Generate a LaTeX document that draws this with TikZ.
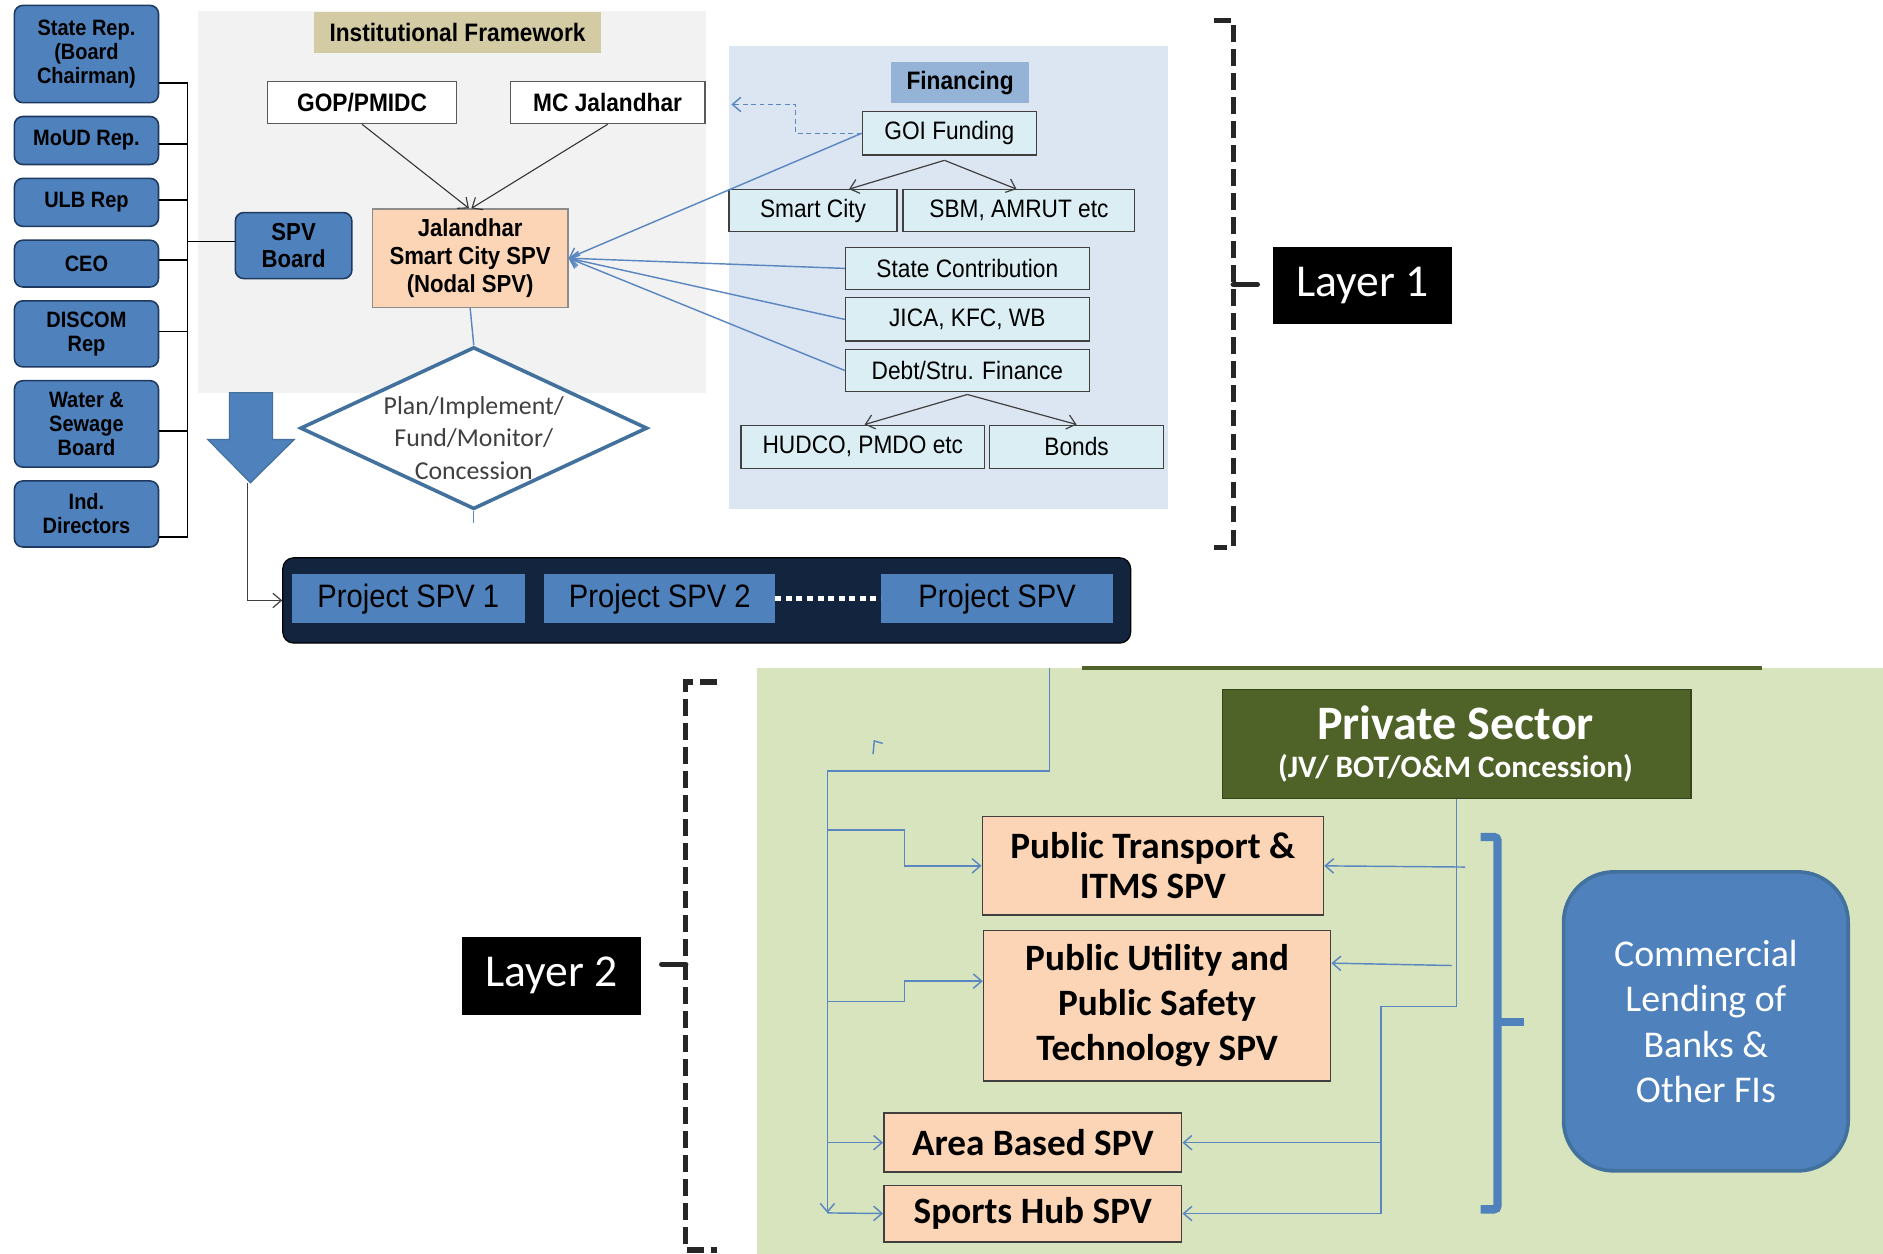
\documentclass[tikz,border=0pt]{standalone}
\usepackage{fontspec}
\usepackage{tikz}
\usetikzlibrary{arrows.meta, positioning, shapes.geometric}

\newfontfamily\narrowfont[FakeStretch=0.9]{Liberation Sans}
\newfontfamily\calfont{Carlito}
\newcommand{\fsz}[2]{\fontsize{#1}{#2}\selectfont}

\definecolor{boxblue}{HTML}{4F81BD}
\definecolor{boxedge}{HTML}{1F3A60}
\definecolor{panelgray}{HTML}{F2F2F2}
\definecolor{headtan}{HTML}{D3CBA4}
\definecolor{peach}{HTML}{FBD5B5}
\definecolor{finpanel}{HTML}{DCE6F2}
\definecolor{finhead}{HTML}{95B3D7}
\definecolor{fundfill}{HTML}{DAEEF3}
\definecolor{navyband}{HTML}{13253E}
\definecolor{greenpanel}{HTML}{D7E4BD}
\definecolor{oliveband}{HTML}{4F6228}
\definecolor{linkblue}{HTML}{5B87C0}
\definecolor{diaedge}{HTML}{41719C}
\definecolor{bracketgray}{HTML}{262626}

\begin{document}
\begin{tikzpicture}[
  x=1pt, y=-1pt,
  node distance=11.5pt and 16pt,
  member/.style={draw=boxedge, line width=1.3pt, fill=boxblue, rounded corners=7pt,
    minimum width=120pt, align=center, inner sep=0pt, outer sep=0pt,
    font=\narrowfont\bfseries\fsz{18.5}{20}},
  box/.style={draw=black!65, line width=1pt, fill=white, minimum height=35pt,
    inner sep=0pt, align=center, font=\narrowfont\bfseries\fsz{21}{23}},
  fundbox/.style={draw=black!75, line width=1pt, fill=fundfill, minimum height=35pt,
    inner sep=0pt, font=\narrowfont\fsz{21}{23}},
  headtag/.style={inner sep=0pt, minimum height=34pt, font=\narrowfont\bfseries\fsz{21}{23}},
  projbox/.style={fill=boxblue, minimum width=193pt, minimum height=41pt, inner sep=0pt,
    font=\narrowfont\fsz{27}{29}},
  peachbox/.style={draw=black!75, line width=1.3pt, fill=peach, align=center,
    inner sep=0pt, font=\calfont\bfseries\fsz{31}{37.5}},
  layertag/.style={fill=black, text=white, minimum width=149pt, minimum height=64pt,
    inner sep=0pt, font=\calfont\fsz{38}{40}},
  arrow/.style={-{Straight Barb[length=7pt,width=12pt]}},
  link/.style={draw=linkblue, line width=1.2pt},
  bracket/.style={draw=bracketgray, line width=4.5pt, dash pattern=on 14pt off 6pt}
]
\useasboundingbox (0,0) rectangle (1568,1044);

% Panels
\fill[panelgray] (165,9) rectangle (588,327);
\fill[finpanel] (607,38) rectangle (973,424);
\fill[greenpanel] (630,556) rectangle (1568,1044);
\draw[oliveband, line width=3pt] (901,556) -- (1467,556);

% Board members
\node[member, minimum height=81pt] (rep) at (72,45) {State Rep.\\(Board\\Chairman)};
\node[member, minimum height=40pt, below=of rep] (moud) {MoUD Rep.};
\node[member, minimum height=40pt, below=of moud] (ulb) {ULB Rep};
\node[member, minimum height=39pt, below=of ulb] (ceo) {CEO};
\node[member, minimum height=55pt, below=of ceo] (disc) {DISCOM\\Rep};
\node[member, minimum height=72pt, below=of disc] (water) {Water \&\\Sewage\\Board};
\node[member, minimum height=55pt, below=of water] (ind) {Ind.\\Directors};
\node[member, minimum width=97pt, minimum height=55pt, font=\narrowfont\bfseries\fsz{20.5}{22}] (spvb) at (244.5,204.5) {SPV\\Board};

\coordinate (bustop) at (156,68);
\coordinate (busbot) at (156,448);
\draw[line width=1.2pt] (bustop) -- (busbot);
\foreach \n/\dy in {rep/-24, moud/-3, ulb/2, ceo/3, disc/2, water/-6, ind/-19}
  \draw[line width=1.2pt] ([yshift=\dy pt]\n.east) -- ([yshift=\dy pt]\n.east -| bustop);
\draw[line width=1.2pt] ([yshift=3.5pt]spvb.west -| bustop) -- ([yshift=3.5pt]spvb.west);

% Institutional framework
\node[headtag, fill=headtan, minimum width=239pt] (inst) at (381,27) {Institutional Framework};
\node[box, minimum width=157pt] (gop) at (301.5,85.5) {GOP/PMIDC};
\node[box, minimum width=162pt] (mcj) at (506,85.5) {MC Jalandhar};
\node[box, fill=peach, draw=black!45, minimum width=163pt, minimum height=82pt,
  font=\narrowfont\bfseries\fsz{20.5}{23}] (jal) at (391.5,215) {Jalandhar\\Smart City SPV\\(Nodal SPV)};
\draw[arrow, black!80, line width=0.9pt] (gop.south) -- ([xshift=-1pt]jal.north);
\draw[arrow, black!80, line width=0.9pt] (mcj.south) -- ([xshift=1pt]jal.north);

\node[diamond, draw=diaedge, line width=3pt, fill=white, minimum width=289pt,
  minimum height=135pt, inner sep=0pt] (dia) at (394.5,356.5) {};
\node[align=center, text=black!75, font=\calfont\fsz{21.5}{27}] (diatext)
  at ([yshift=-8pt]dia.center) {Plan/Implement/\\Fund/Monitor/\\Concession};
\draw[link] (jal.south) -- (dia.north);
\draw[link] (dia.south) -- ++(0,10);

% Down arrow to project SPVs
\draw[fill=boxblue, draw=diaedge, line width=1pt]
  (191,327) -- (227,327) -- (227,366) -- (245,366) -- (208.5,402) -- (173,366) -- (191,366) -- cycle;
\coordinate (drop) at (206,402);

\node[draw=black, line width=1pt, fill=navyband, rounded corners=9pt, minimum width=706pt,
  minimum height=71pt] (projbar) at (588.5,500) {};
\node[projbox, minimum width=194pt] (p1) at (340,498.5) {Project SPV 1};
\node[projbox, minimum width=192pt, right=16pt of p1] (p2) {Project SPV 2};
\node[projbox, right=88pt of p2] (p3) {Project SPV};
\draw[white, line width=4pt, dash pattern=on 5pt off 3.8pt] (p2.east) -- (p3.west);
\draw[arrow, black!75, line width=1pt] (drop) |- (projbar.west);

% Financing
\node[headtag, fill=finhead, minimum width=115pt] (fin) at (799.5,69) {Financing};
\node[fundbox, minimum width=145pt, minimum height=36pt] (goi) at (790.5,111) {GOI Funding};
\node[fundbox, minimum width=140pt] (smart) at (677,175.5) {Smart City};
\node[fundbox, minimum width=193pt] (sbm) at (848.5,175.5) {SBM, AMRUT etc};
\node[fundbox, minimum width=203pt] (state) at (805.5,223.5) {State Contribution};
\node[fundbox, minimum width=203pt, minimum height=36pt] (jica) at (805.5,266) {JICA, KFC, WB};
\node[fundbox, minimum width=203pt] (debt) at (805.5,308.5) {Debt/Stru. Finance};
\node[fundbox, minimum width=203pt, minimum height=36pt] (hudco) at (718.5,372) {HUDCO, PMDO etc};
\node[fundbox, minimum width=145pt, minimum height=36pt] (bonds) at (896.5,372) {Bonds};

\coordinate (goisplit) at ([xshift=-4pt, yshift=-4pt]goi.south);
\draw[arrow, black!75, line width=1pt] (goisplit) -- ([xshift=30pt]smart.north);
\draw[arrow, black!75, line width=1pt] (goisplit) -- ([xshift=-2pt]sbm.north);
\draw[arrow, black!75, line width=1pt] ([yshift=-2pt]debt.south) -- ([xshift=1.5pt]hudco.north);
\draw[arrow, black!75, line width=1pt] ([yshift=-2pt]debt.south) -- (bonds.north);

\foreach \src in {goi, state, jica, debt}
  \draw[link, arrow] (\src.west) -- (jal.east);
\coordinate (dashend) at (609,87);
\draw[link, arrow, dash pattern=on 4pt off 3pt] (goi.west) -- ++(-55,0) |- (dashend);

% Layer 1 bracket
\draw[bracket] (1011,17) -- (1027,17) -- (1027,456) -- (1011,456);
\coordinate (b1mid) at (1027,237);
\draw[bracketgray, line width=4.5pt, line cap=round] (b1mid) -- ++(20,0);
\node[layertag] (lay1) at (1134.5,238) {Layer 1};

% Layer 2
\node[fill=oliveband, draw=oliveband!70!black, line width=1.3pt, minimum width=390pt,
  minimum height=91pt] (priv) at (1213,619.5) {};
\node[text=white, font=\calfont\bfseries\fsz{40}{40}] (privtitle) at (1212,602) {Private Sector};
\node[text=white, font=\calfont\bfseries\fsz{26}{26}] (privsub) at (1212,640) {(JV/ BOT/O\&M Concession)};

\node[peachbox, minimum width=284pt, minimum height=82pt, font=\calfont\bfseries\fsz{31}{33}] (trans) at (960,721) {Public Transport \&\\ITMS SPV};
\node[peachbox, minimum width=289pt, minimum height=125pt] (util) at (963.5,837.5) {Public Utility and\\Public Safety\\Technology SPV};
\node[peachbox, minimum width=248pt, minimum height=49pt] (area) at (860,951.5) {Area Based SPV};
\node[peachbox, minimum width=248pt, minimum height=47pt] (sports) at (860,1010.5) {Sports Hub SPV};

% left feed lines
\coordinate (feedtop) at (874,556);
\coordinate (trunk) at (689,642);
\coordinate (trunkend) at (689,1010);
\coordinate (tA) at (689,691);
\coordinate (tB) at (689,834);
\coordinate (tC) at (689,951.5);
\draw[link] (feedtop) |- (trunk);
\draw[link, arrow] (trunk) -- (trunkend);
\draw[link, arrow] (tA) -- ++(64,0) |- (trans.west);
\draw[link, arrow] (tB) -- ++(64,0) |- ([yshift=20.5pt]util.west);
\draw[link, arrow] (tC) -- (area.west);
\draw[link, arrow] (trunkend) -- (sports.west);
\draw[link] (727,628) -- (728,617) -- (735,619);

% right feed lines
\coordinate (rmid) at (1150,838);
\coordinate (rbot) at (1150,1010.5);
\coordinate (rA) at (1220,722);
\coordinate (rB) at (1209,804);
\draw[link] (priv.south) |- (rmid) -- (rbot);
\draw[link, arrow] (rA) -- (trans.east);
\draw[link, arrow] (rB) -- ([yshift=35.5pt]util.east);
\draw[link, arrow] (rmid |- area.east) -- (area.east);
\draw[link, arrow] (rbot) -- (sports.east);

% lenders
\draw[boxblue, line width=7pt, rounded corners=3pt] (1233,697) -- (1247,697) -- (1247,1007) -- (1233,1007);
\coordinate (bankbrace) at (1247,851);
\draw[boxblue, line width=7pt] (bankbrace) -- ++(22,0);
\node[draw=diaedge, line width=3pt, fill=boxblue, rounded corners=42pt, minimum width=237pt,
  minimum height=249pt, align=center, text=white, font=\calfont\fsz{31.5}{37.7}] (bank)
  at (1420.5,850.5) {Commercial\\Lending of\\Banks \&\\Other FIs};

% Layer 2 bracket
\draw[bracket] (597,568) -- (571,568) -- (571,1041) -- (597,1041);
\coordinate (b2mid) at (571,803);
\draw[bracketgray, line width=4.5pt, line cap=round] (b2mid) -- ++(-20,0);
\node[layertag, minimum height=65pt] (lay2) at (459.5,812.5) {Layer 2};
\end{tikzpicture}
\end{document}
